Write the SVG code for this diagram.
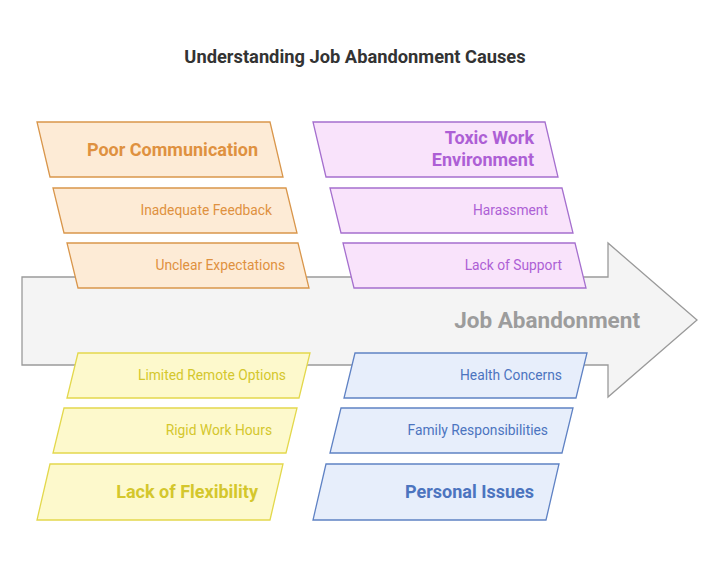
<svg xmlns="http://www.w3.org/2000/svg" width="720" height="565" viewBox="0 0 720 565">
<style>
  text { font-family: Roboto, "Liberation Sans", sans-serif; }
  .title { font-size: 18.3px; font-weight: 700; fill: #333; }
  .main { font-size: 18px; font-weight: 700; text-anchor: end; }
  .sub { font-size: 13.8px; text-anchor: end; }
  .or polygon { fill: #fdebd6; stroke: #d9964b; stroke-width: 1.3; }
  .or text { fill: #df9140; }
  .pu polygon { fill: #f9e3fb; stroke: #a56fce; stroke-width: 1.3; }
  .pu text { fill: #ad5fd5; }
  .ye polygon { fill: #fdf9cc; stroke: #e3d84c; stroke-width: 1.3; }
  .ye text { fill: #d4c72c; }
  .bl polygon { fill: #e7eefb; stroke: #5f82c4; stroke-width: 1.3; }
  .bl text { fill: #4c74bf; }
</style>
<rect width="720" height="565" fill="#ffffff"/>
<text class="title" x="355" y="63" text-anchor="middle">Understanding Job Abandonment Causes</text>

<g id="arrow">
  <path d="M22,277 H608 V243 L697,320 L608,397 V365 H22 Z" fill="#f4f4f4" stroke="#9a9a9a" stroke-width="1.3"/>
  <text x="640" y="328" font-size="22.5" font-weight="700" fill="#9c9c9c" text-anchor="end">Job Abandonment</text>
</g>

<g id="connectors"></g>

<g id="poor-communication" class="or">
  <polygon points="37,122 270,122 283,177 50,177"/>
  <text class="main" x="258" y="156">Poor Communication</text>
</g>
<g id="inadequate-feedback" class="or">
  <polygon points="53,188 286,188 297,233 64,233"/>
  <text class="sub" x="272" y="215">Inadequate Feedback</text>
</g>
<g id="unclear-expectations" class="or">
  <polygon points="67,243 298,243 309,288 78,288"/>
  <text class="sub" x="285" y="270">Unclear Expectations</text>
</g>

<g id="toxic-work-environment" class="pu">
  <polygon points="313,122 545,122 558,177 326,177"/>
  <text class="main" x="534" y="144">Toxic Work</text>
  <text class="main" x="534" y="166">Environment</text>
</g>
<g id="harassment" class="pu">
  <polygon points="330,188 562,188 573,233 341,233"/>
  <text class="sub" x="548" y="215">Harassment</text>
</g>
<g id="lack-of-support" class="pu">
  <polygon points="343,243 575,243 586,288 354,288"/>
  <text class="sub" x="562" y="270">Lack of Support</text>
</g>

<g id="limited-remote-options" class="ye">
  <polygon points="78,353 310,353 299,398 67,398"/>
  <text class="sub" x="286" y="380">Limited Remote Options</text>
</g>
<g id="rigid-work-hours" class="ye">
  <polygon points="64,408 297,408 286,453 53,453"/>
  <text class="sub" x="272" y="435">Rigid Work Hours</text>
</g>
<g id="lack-of-flexibility" class="ye">
  <polygon points="50,464 283,464 270,520 37,520"/>
  <text class="main" x="258" y="498">Lack of Flexibility</text>
</g>

<g id="health-concerns" class="bl">
  <polygon points="355,353 587,353 576,398 344,398"/>
  <text class="sub" x="562" y="380">Health Concerns</text>
</g>
<g id="family-responsibilities" class="bl">
  <polygon points="341,408 573,408 562,453 330,453"/>
  <text class="sub" x="548" y="435">Family Responsibilities</text>
</g>
<g id="personal-issues" class="bl">
  <polygon points="326,464 559,464 546,520 313,520"/>
  <text class="main" x="534" y="498">Personal Issues</text>
</g>
</svg>
